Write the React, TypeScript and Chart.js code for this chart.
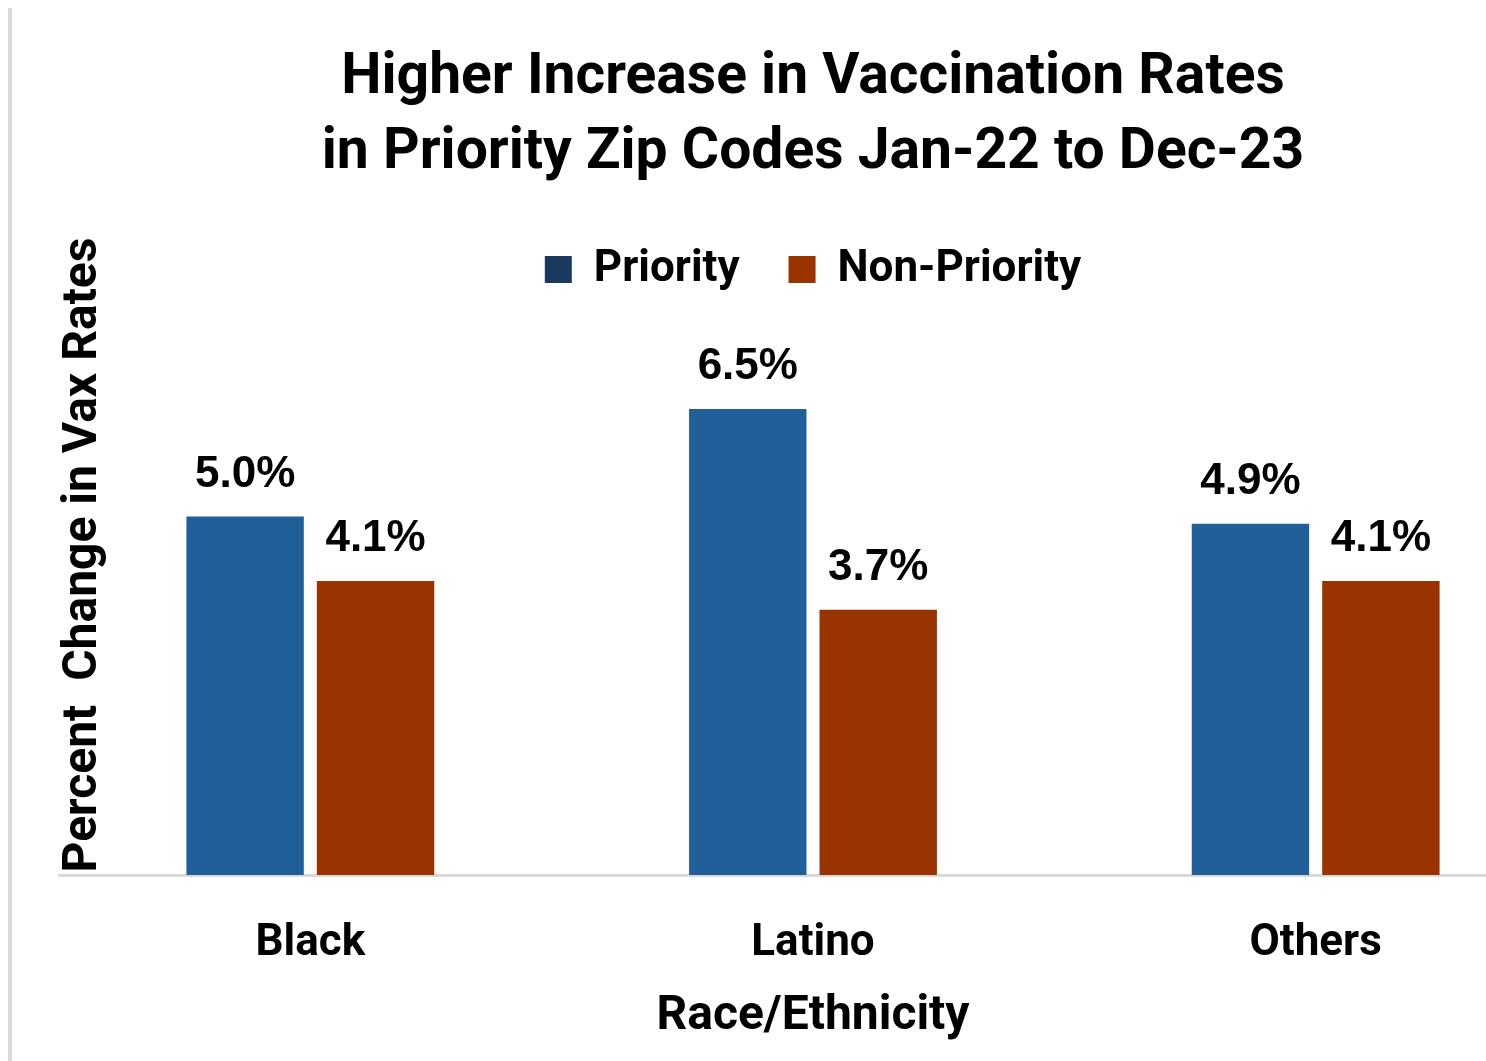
import React, { useEffect, useRef } from "react";
import { Chart, registerables } from "chart.js";

Chart.register(...registerables);

const categories = ["Black", "Latino", "Others"];
const seriesNames = ["Priority", "Non-Priority"];
const priorityValues = [5.0, 6.5, 4.9];
const nonPriorityValues = [4.1, 3.7, 4.1];
const barColors = ["#215F9A", "#993300"];
const legendColors = ["#1B3A60", "#993300"];
const titleLines = ["Higher Increase in Vaccination Rates", "in Priority Zip Codes Jan-22 to Dec-23"];
const yTitle = "Percent  Change in Vax Rates";
const xTitle = "Race/Ethnicity";

const FAMILY = "Roboto, 'Noto Sans', sans-serif";

const valueLabels = {
  id: "valueLabels",
  afterDatasetsDraw(chart: any) {
    const ctx = chart.ctx;
    ctx.save();
    ctx.font = "bold 44px 'Liberation Sans', Arial, sans-serif";
    ctx.fillStyle = "#000";
    ctx.textAlign = "center";
    ctx.textBaseline = "alphabetic";
    chart.data.datasets.forEach((ds: any, di: number) => {
      const meta = chart.getDatasetMeta(di);
      meta.data.forEach((bar: any, i: number) => {
        const v = ds.data[i] as number;
        ctx.fillText(v.toFixed(1) + "%", bar.x, bar.y - 30);
      });
    });
    ctx.restore();
  },
};

const yTitlePlugin = {
  id: "yTitleText",
  afterDraw(chart: any) {
    const ctx = chart.ctx;
    ctx.save();
    ctx.translate(72, 547);
    ctx.rotate(-Math.PI / 2);
    ctx.font = `bold 48px ${FAMILY}`;
    ctx.fillStyle = "#000";
    ctx.textAlign = "center";
    ctx.textBaseline = "middle";
    ctx.fillText(yTitle, 0, 0);
    ctx.restore();
  },
};

export default function App() {
  const ref = useRef<HTMLCanvasElement>(null);

  useEffect(() => {
    const canvas = ref.current;
    if (!canvas) return;
    const chart = new Chart(canvas, {
      type: "bar",
      data: {
        labels: categories,
        datasets: [
          {
            label: seriesNames[0],
            data: priorityValues,
            backgroundColor: barColors[0],
            categoryPercentage: 0.519,
            barPercentage: 0.9,
          },
          {
            label: seriesNames[1],
            data: nonPriorityValues,
            backgroundColor: barColors[1],
            categoryPercentage: 0.519,
            barPercentage: 0.9,
          },
        ],
      },
      options: {
        responsive: false,
        animation: false,
        devicePixelRatio: 1,
        layout: { padding: { top: 0, left: 47, right: 47, bottom: 0 } },
        plugins: {
          title: {
            display: true,
            text: titleLines,
            color: "#000",
            font: { family: FAMILY, size: 57, weight: "bold", lineHeight: 1.316 },
            padding: { top: 33, bottom: 7.5 },
          },
          legend: {
            display: true,
            position: "top",
            labels: {
              color: "#000",
              font: { family: FAMILY, size: 44, weight: "bold" },
              boxWidth: 27,
              boxHeight: 27,
              padding: 49,
              generateLabels: (ch: any) => {
                const items = (Chart as any).defaults.plugins.legend.labels.generateLabels(ch);
                items.forEach((it: any, i: number) => {
                  it.fillStyle = legendColors[i];
                  it.strokeStyle = legendColors[i];
                  it.lineWidth = 0;
                });
                return items;
              },
            },
          },
          tooltip: { enabled: false },
        },
        scales: {
          x: {
            grid: { display: false, drawTicks: false },
            border: { display: true, color: "#d9d9d9", width: 3 },
            ticks: {
              color: "#000",
              font: { family: FAMILY, size: 44, weight: "bold" },
              padding: 43,
            },
            title: {
              display: true,
              text: xTitle,
              color: "#000",
              font: { family: FAMILY, size: 48, weight: "bold" },
              padding: { top: -25.4, bottom: 15 },
            },
          },
          y: { display: false, min: 0, max: 8 },
        },
      },
      plugins: [valueLabels, yTitlePlugin],
    } as any);
    return () => chart.destroy();
  }, []);

  return (
    <div
      style={{
        position: "fixed",
        left: 8,
        top: 8,
        width: 1478,
        height: 1053,
        overflow: "hidden",
        borderLeft: "4px solid #d9d9d9",
        boxSizing: "border-box",
        background: "#fff",
      }}
    >
      <canvas ref={ref} width={1602} height={1053} style={{ display: "block", width: 1602, height: 1053 }} />
    </div>
  );
}
